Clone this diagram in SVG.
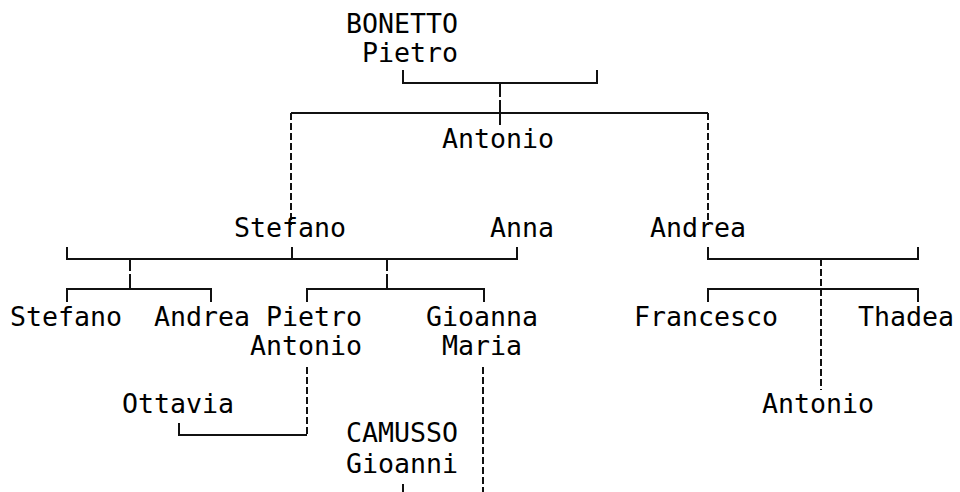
<svg xmlns="http://www.w3.org/2000/svg" width="960" height="492" viewBox="0 0 960 492">
<style>
text{font-family:"DejaVu Sans Mono","Liberation Mono",monospace;font-size:26.6px;fill:#000}
.l{fill:none;stroke:#111;stroke-width:2}
.d{fill:none;stroke:#111;stroke-width:2;stroke-dasharray:7 3}
</style>
<rect width="960" height="492" fill="#fff"/>
<g id="connectors">
<path class="l" d="M403,70V83H597V70"/>
<path class="l" d="M500,83V97M500,100V125"/>
<path class="l" d="M291,113H708"/>
<path class="d" d="M291,113V225M708,113V225"/>
<path class="l" d="M67,247V259H517V247M292,247V259"/>
<path class="l" d="M130,259V271M130,274V289M67,302V289H211V302"/>
<path class="l" d="M387,259V271M387,274V289M307,302V289H484V302"/>
<path class="l" d="M708,247V259H918V247M708,302V289H918V302"/>
<path class="d" d="M821,259V390"/>
<path class="d" d="M307,367V435"/>
<path class="l" d="M179,423V435H307"/>
<path class="l" d="M403,484V492"/>
<path class="d" d="M483,367V492"/>
</g>
<g id="n-bonetto-pietro"><text x="346" y="33">BONETTO</text><text x="362" y="62">Pietro</text></g>
<g id="n-antonio1"><text x="442" y="148">Antonio</text></g>
<g id="n-stefano1"><text x="234" y="237">Stefano</text></g>
<g id="n-anna"><text x="490" y="237">Anna</text></g>
<g id="n-andrea1"><text x="650" y="237">Andrea</text></g>
<g id="n-stefano2"><text x="10" y="326">Stefano</text></g>
<g id="n-andrea2"><text x="154" y="326">Andrea</text></g>
<g id="n-pietro-antonio"><text x="266" y="326">Pietro</text><text x="250" y="355">Antonio</text></g>
<g id="n-gioanna-maria"><text x="426" y="326">Gioanna</text><text x="442" y="355">Maria</text></g>
<g id="n-francesco"><text x="634" y="326">Francesco</text></g>
<g id="n-thadea"><text x="858" y="326">Thadea</text></g>
<g id="n-antonio2"><text x="762" y="413">Antonio</text></g>
<g id="n-ottavia"><text x="122" y="413">Ottavia</text></g>
<g id="n-camusso-gioanni"><text x="346" y="442">CAMUSSO</text><text x="346" y="473">Gioanni</text></g>
</svg>
